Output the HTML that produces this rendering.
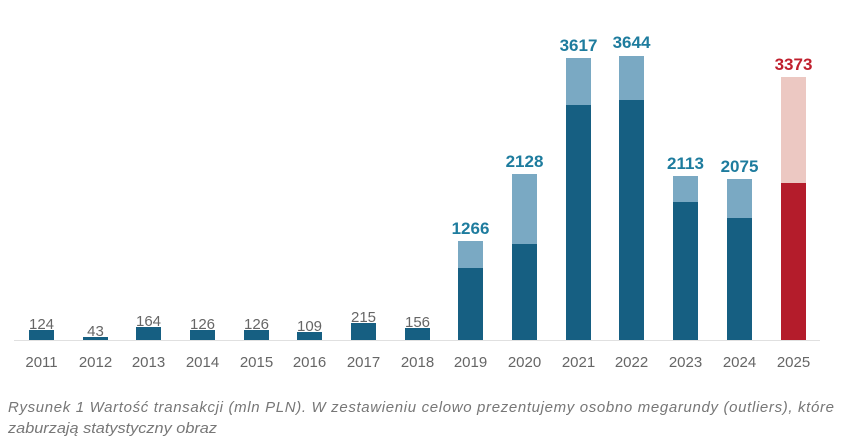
<!DOCTYPE html><html><head><style>body{margin:0;background:#fff}svg{display:block}</style></head><body>
<svg width="845" height="436" xmlns="http://www.w3.org/2000/svg" font-family="Liberation Sans, sans-serif">
<line x1="14" y1="340.5" x2="820" y2="340.5" stroke="#e0e0e0" stroke-width="1"/>
<g fill="#165f82">
<rect x="29" y="330" width="25" height="10"/>
<rect x="83" y="337" width="25" height="3"/>
<rect x="136" y="327" width="25" height="13"/>
<rect x="190" y="330" width="25" height="10"/>
<rect x="244" y="330" width="25" height="10"/>
<rect x="297" y="332" width="25" height="8"/>
<rect x="351" y="323" width="25" height="17"/>
<rect x="405" y="328" width="25" height="12"/>
<rect x="458" y="268" width="25" height="72"/>
<rect x="512" y="244" width="25" height="96"/>
<rect x="566" y="105" width="25" height="235"/>
<rect x="619" y="100" width="25" height="240"/>
<rect x="673" y="202" width="25" height="138"/>
<rect x="727" y="218" width="25" height="122"/>
</g>
<g fill="#7aa9c3">
<rect x="458" y="241" width="25" height="27"/>
<rect x="512" y="174" width="25" height="70"/>
<rect x="566" y="58" width="25" height="47"/>
<rect x="619" y="56" width="25" height="44"/>
<rect x="673" y="176" width="25" height="26"/>
<rect x="727" y="179" width="25" height="39"/>
</g>
<rect x="781" y="77" width="25" height="106" fill="#ecc8c2"/>
<rect x="781" y="183" width="25" height="157" fill="#b41c2b"/>
<g fill="#666" font-size="15" text-anchor="middle">
<text x="41.5" y="329">124</text><text x="95.5" y="336">43</text><text x="148.5" y="326">164</text><text x="202.5" y="329">126</text><text x="256.5" y="329">126</text><text x="309.5" y="331">109</text><text x="363.5" y="322">215</text><text x="417.5" y="327">156</text>
</g>
<g fill="#1e7c9e" font-size="17" font-weight="bold" text-anchor="middle">
<text x="470.5" y="234">1266</text><text x="524.5" y="167">2128</text><text x="578.5" y="51">3617</text><text x="631.5" y="48">3644</text><text x="685.5" y="169">2113</text><text x="739.5" y="172">2075</text>
</g>
<text x="793.5" y="70" fill="#c0202e" font-size="17" font-weight="bold" text-anchor="middle">3373</text>
<g fill="#666" font-size="15" text-anchor="middle">
<text x="41.5" y="367">2011</text><text x="95.5" y="367">2012</text><text x="148.5" y="367">2013</text><text x="202.5" y="367">2014</text><text x="256.5" y="367">2015</text><text x="309.5" y="367">2016</text><text x="363.5" y="367">2017</text><text x="417.5" y="367">2018</text><text x="470.5" y="367">2019</text><text x="524.5" y="367">2020</text><text x="578.5" y="367">2021</text><text x="631.5" y="367">2022</text><text x="685.5" y="367">2023</text><text x="739.5" y="367">2024</text><text x="793.5" y="367">2025</text>
</g>
<g fill="#777" font-size="15" font-style="italic">
<text x="8" y="412" textLength="826" lengthAdjust="spacing">Rysunek 1 Wartość transakcji (mln PLN). W zestawieniu celowo prezentujemy osobno megarundy (outliers), które</text>
<text x="8" y="433" textLength="209" lengthAdjust="spacingAndGlyphs">zaburzają statystyczny obraz</text>
</g>
</svg>
</body></html>
